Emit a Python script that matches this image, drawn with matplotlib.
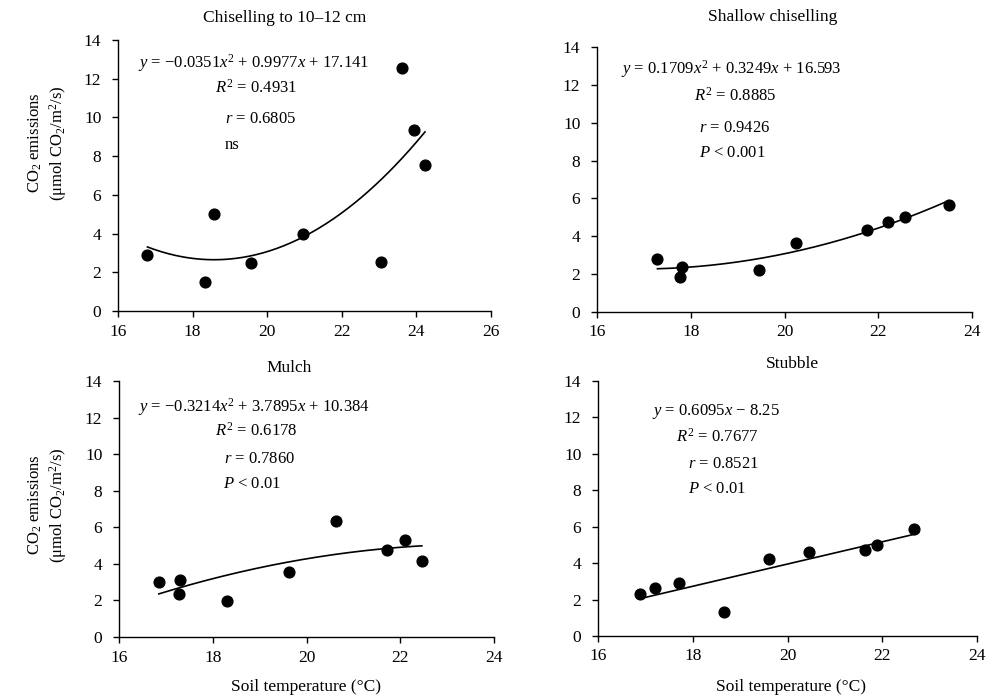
import numpy as np
import matplotlib
matplotlib.use("Agg")
import matplotlib.pyplot as plt

plt.rcParams['font.family'] = ['Liberation Serif', 'DejaVu Serif']
plt.rcParams['mathtext.fontset'] = 'custom'
plt.rcParams['mathtext.rm'] = 'Liberation Serif'
plt.rcParams['mathtext.it'] = 'Liberation Serif:italic'

MINUS = "\u2212"

# ---- data ----
titles = ["Chiselling to 10\u201312 cm", "Shallow chiselling", "Mulch", "Stubble"]

chisel_x = [16.79, 18.34, 18.58, 19.57, 20.96, 23.05, 23.62, 23.94, 24.23]
chisel_y = [2.87, 1.51, 5.00, 2.46, 3.99, 2.54, 12.53, 9.36, 7.56]

shallow_x = [17.29, 17.77, 17.82, 19.46, 20.24, 21.75, 22.20, 22.58, 23.50]
shallow_y = [2.80, 1.85, 2.36, 2.22, 3.66, 4.35, 4.75, 5.02, 5.65]

mulch_x = [16.85, 17.30, 17.27, 18.30, 19.63, 20.63, 21.72, 22.11, 22.46]
mulch_y = [3.03, 3.10, 2.35, 1.97, 3.54, 6.33, 4.74, 5.29, 4.16]

stubble_x = [16.88, 17.21, 17.70, 18.66, 19.62, 20.45, 21.63, 21.88, 22.66]
stubble_y = [2.31, 2.62, 2.91, 1.30, 4.21, 4.60, 4.71, 4.98, 5.90]

fit_degree = [2, 2, 2, 1]
x_limits = [(16, 26), (16, 24), (16, 24), (16, 24)]
y_ticks = [0, 2, 4, 6, 8, 10, 12, 14]

annotations = [
    ["$y$ = " + MINUS + "0.0351$x^2$ + 0.9977$x$ + 17.141", "$R^2$ = 0.4931", "$r$ = 0.6805", "ns"],
    ["$y$ = 0.1709$x^2$ + 0.3249$x$ + 16.593", "$R^2$ = 0.8885", "$r$ = 0.9426", "$P$ < 0.001"],
    ["$y$ = " + MINUS + "0.3214$x^2$ + 3.7895$x$ + 10.384", "$R^2$ = 0.6178", "$r$ = 0.7860", "$P$ < 0.01"],
    ["$y$ = 0.6095$x$ " + MINUS + " 8.25", "$R^2$ = 0.7677", "$r$ = 0.8521", "$P$ < 0.01"],
]

series = [(chisel_x, chisel_y), (shallow_x, shallow_y), (mulch_x, mulch_y), (stubble_x, stubble_y)]

# ---- layout ----
fig = plt.figure(figsize=(10.05, 6.98), dpi=100)
W, H = 1005, 698
boxes = [(118, 40, 491, 311), (597, 47, 972, 312), (119, 381, 494, 637), (598, 381, 977, 636)]
annot_pos = [
    [(16.54, 12.8), (18.6, 11.55), (18.86, 9.93), (18.86, 8.59)],
    [(16.51, 12.82), (18.06, 11.44), (18.17, 9.72), (18.17, 8.40)],
    [(16.41, 12.59), (18.04, 11.26), (18.23, 9.71), (18.22, 8.34)],
    [(17.14, 12.34), (17.65, 10.93), (17.91, 9.47), (17.91, 8.06)],
]
title_pos = [(285, 18), (773, 17), (289, 368), (792, 364)]

for i, (xs, ys) in enumerate(series):
    l, t, r, b = boxes[i]
    ax = fig.add_axes([l / W, 1 - b / H, (r - l) / W, (b - t) / H])
    xs = np.array(xs); ys = np.array(ys)
    coef = np.polyfit(xs, ys, fit_degree[i])
    xx = np.linspace(xs.min(), xs.max(), 200)
    ax.plot(xx, np.polyval(coef, xx), color='black', lw=1.2, zorder=2)
    ax.scatter(xs, ys, s=60, color='black', zorder=3)
    ax.set_xlim(*x_limits[i])
    ax.set_ylim(0, 14)
    ax.set_xticks(np.arange(x_limits[i][0], x_limits[i][1] + 1, 2))
    ax.set_yticks(y_ticks)
    for s in ['top', 'right']:
        ax.spines[s].set_visible(False)
    for s in ['left', 'bottom']:
        ax.spines[s].set_linewidth(1.0)
    ax.tick_params(direction='out', length=4, width=1.0, labelsize=12.5)
    ax.tick_params(axis='y', pad=8)
    ax.tick_params(axis='x', pad=5)
    for (tx, ty), txt in zip(annot_pos[i], annotations[i]):
        ax.text(tx, ty, txt, fontsize=12, ha='left', va='center')
    fig.text(title_pos[i][0] / W, 1 - title_pos[i][1] / H, titles[i], fontsize=12.5,
             ha='center', va='center')

# y labels on left panels
for yc in [143, 505]:
    fig.text(35 / W, 1 - yc / H, "CO$_2$ emissions", rotation=90, fontsize=12,
             ha='center', va='center')
    fig.text(58 / W, 1 - yc / H, "(\u03bcmol CO$_2$/m$^2$/s)", rotation=90, fontsize=12,
             ha='center', va='center')

# x labels on bottom panels
for xc in [306, 791]:
    fig.text(xc / W, 1 - 687 / H, "Soil temperature (\u00b0C)", fontsize=12.5,
             ha='center', va='center')

fig.savefig("out.png", dpi=100)
